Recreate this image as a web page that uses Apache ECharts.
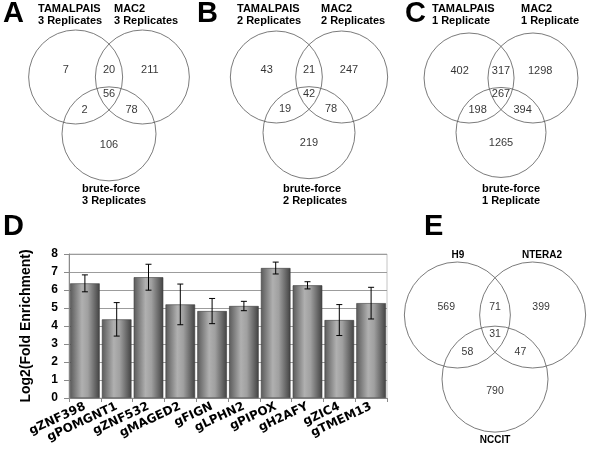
<!DOCTYPE html>
<html><head><meta charset="utf-8">
<script src="https://cdn.jsdelivr.net/npm/echarts@6/dist/echarts.min.js"></script>
<style>html,body{margin:0;padding:0;background:#fff}#c{width:593px;height:463px}</style>
</head><body><div id="c"></div>
<script>
// ---- Data ----
const categories = ['gZNF398','gPOMGNT1','gZNF532','gMAGED2','gFIGN','gLPHN2','gPIPOX','gH2AFY','gZIC4','gTMEM13'];
const enrichment = [6.37,4.37,6.71,5.20,4.83,5.11,7.22,6.26,4.33,5.27];
const enrichErr  = [0.47,0.93,0.72,1.13,0.70,0.26,0.33,0.20,0.86,0.88];
const yTickMin = 0, yTickMax = 8, yTickStep = 1;
// Venn region counts, order: only1, only2, only3, 1&2, 1&3, 2&3, all
const vennA = [7,211,106,20,2,78,56];
const vennB = [43,247,219,21,19,78,42];
const vennC = [402,1298,1265,317,198,394,267];
const vennE = [569,399,790,71,58,47,31];
const setsA = ['TAMALPAIS|3 Replicates','MAC2|3 Replicates','brute-force|3 Replicates'];
const setsB = ['TAMALPAIS|2 Replicates','MAC2|2 Replicates','brute-force|2 Replicates'];
const setsC = ['TAMALPAIS|1 Replicate','MAC2|1 Replicate','brute-force|1 Replicate'];
const setsE = ['H9','NTERA2','NCCIT'];
const panelLetters = ['A','B','C','D','E'];

// ---- Layout ----
const FONT = '"Liberation Sans", Arial, sans-serif';
const circleUnits = [[-0.71,0],[0.71,0],[0,1.21]];
const regionUnits = [[-0.92,-0.15],[0.87,-0.15],[0,1.44],[0,-0.15],[-0.52,0.70],[0.48,0.70],[0,0.36]];
const vennPanels = [
  {counts:vennA, sets:setsA, cx:109, cy:77, r:47, fs:11, setPos:[[38,9],[114,9],[82,189]], align:'left', setFs:11},
  {counts:vennB, sets:setsB, cx:309, cy:77, r:46, fs:11, setPos:[[237,9],[321,9],[283,189]], align:'left', setFs:11},
  {counts:vennC, sets:setsC, cx:501, cy:78, r:45, fs:11, setPos:[[432,9],[521,9],[482,189]], align:'left', setFs:11},
  {counts:vennE, sets:setsE, cx:495, cy:315, r:53, fs:10.5, setPos:[[458,255],[542,255],[495,440]], align:'center', setFs:10}
];
const letterPos = [[3,14],[197,14],[405,14],[3,227],[424,227]];

const chart = echarts.init(document.getElementById('c'), null, {renderer:'canvas'});
const grids = [], xAxes = [], yAxes = [], series = [], graphics = [];

// Bar chart (panel D)
grids.push({left:69, top:254, width:318, height:144, show:true, borderColor:'#c4c4c4', borderWidth:1, containLabel:false});
xAxes.push({type:'category', gridIndex:0, data:categories,
  axisLine:{lineStyle:{color:'#8a8a8a'}}, axisTick:{show:true, length:4, lineStyle:{color:'#8a8a8a'}},
  axisLabel:{interval:0, rotate:25, color:'#000', fontWeight:'bold', fontSize:12, fontFamily:'"DejaVu Sans", sans-serif', margin:8}});
yAxes.push({type:'value', gridIndex:0, min:yTickMin, max:yTickMax, interval:yTickStep,
  name:'Log2(Fold Enrichment)', nameLocation:'middle', nameGap:36,
  nameTextStyle:{color:'#000', fontWeight:'bold', fontSize:14, fontFamily:FONT},
  axisLine:{show:true, lineStyle:{color:'#8a8a8a'}}, axisTick:{show:true, length:5, lineStyle:{color:'#8a8a8a'}},
  splitLine:{lineStyle:{color:'#9c9c9c'}},
  axisLabel:{color:'#000', fontWeight:'bold', fontSize:12, fontFamily:FONT, margin:11}});
series.push({type:'bar', xAxisIndex:0, yAxisIndex:0, data:enrichment, barCategoryGap:'7%', silent:true,
  itemStyle:{borderColor:'#3c3c3c', borderWidth:0.6,
    color:{type:'linear', x:0, y:0, x2:1, y2:0, colorStops:[
      {offset:0, color:'#5a5a5a'},{offset:0.4, color:'#b0b0b0'},{offset:0.6, color:'#a0a0a0'},{offset:1, color:'#424242'}]}}});
series.push({type:'custom', xAxisIndex:0, yAxisIndex:0, silent:true, z:5,
  data: enrichment.map((v,i)=>[i, v, enrichErr[i]]),
  renderItem: function(params, api){
    const i = api.value(0), v = api.value(1), e = api.value(2);
    const top = api.coord([i, v+e]), bot = api.coord([i, v-e]);
    const hw = 3;
    const st = {stroke:'#000', lineWidth:1};
    return {type:'group', children:[
      {type:'line', shape:{x1:top[0], y1:top[1], x2:bot[0], y2:bot[1]}, style:st},
      {type:'line', shape:{x1:top[0]-hw, y1:top[1], x2:top[0]+hw, y2:top[1]}, style:st},
      {type:'line', shape:{x1:bot[0]-hw, y1:bot[1], x2:bot[0]+hw, y2:bot[1]}, style:st}
    ]};
  }});

// Venn panels
vennPanels.forEach((p, k) => {
  const gi = k + 1;
  grids.push({left:p.cx - 1.8*p.r, top:p.cy - 1.2*p.r, width:3.6*p.r, height:3.6*p.r});
  xAxes.push({type:'value', gridIndex:gi, min:-1.8, max:1.8, show:false});
  yAxes.push({type:'value', gridIndex:gi, min:-1.2, max:2.4, inverse:true, show:false});
  series.push({type:'scatter', xAxisIndex:gi, yAxisIndex:gi, silent:true, symbol:'circle', symbolSize:2*p.r,
    data:circleUnits, itemStyle:{color:'rgba(0,0,0,0)', borderColor:'#5a5a5a', borderWidth:1}});
  series.push({type:'scatter', xAxisIndex:gi, yAxisIndex:gi, silent:true, symbolSize:1,
    data: p.counts.map((c,j)=>({value:[regionUnits[j][0], regionUnits[j][1]], count:c})),
    itemStyle:{color:'rgba(0,0,0,0)'},
    label:{show:true, position:'inside', color:'#000', fontSize:p.fs, fontFamily:FONT,
      formatter: (d)=> String(d.data.count)}});
  p.sets.forEach((s, j) => {
    const lines = s.split('|');
    lines.forEach((ln, li) => {
      graphics.push({type:'text', x:p.setPos[j][0], y:p.setPos[j][1] + li*12, silent:true,
        style:{text:ln, font:'bold '+p.setFs+'px '+FONT, fill:'#000', textAlign:p.align, textVerticalAlign:'middle'}});
    });
  });
});

panelLetters.forEach((L, i) => {
  graphics.push({type:'text', x:letterPos[i][0], y:letterPos[i][1], silent:true,
    style:{text:L, font:'bold 29px '+FONT, fill:'#000', textAlign:'left', textVerticalAlign:'middle'}});
});

chart.setOption({animation:false, backgroundColor:'#fff', grid:grids, xAxis:xAxes, yAxis:yAxes, series:series, graphic:graphics});
</script></body></html>
